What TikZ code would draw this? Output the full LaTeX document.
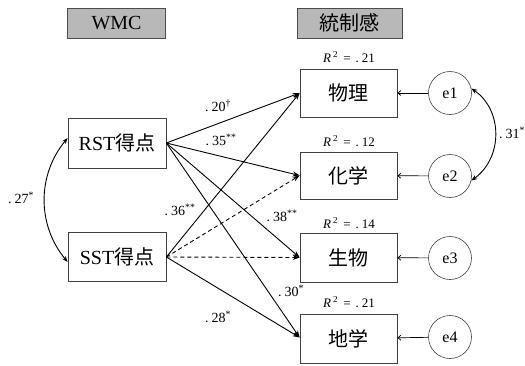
\documentclass[tikz,border=0pt]{standalone}
\usepackage{fontspec}
\setmainfont{Liberation Serif}
\newfontfamily\jp{Noto Sans CJK JP}
\usetikzlibrary{arrows.meta}
\tikzset{
  hdr/.style={draw=black!70, fill=black!28, line width=0.7pt, minimum width=98pt, minimum height=30pt, inner sep=0pt, font=\fontsize{20}{22}\selectfont},
  obs/.style={draw=black!75, line width=0.7pt, minimum width=97pt, minimum height=48pt, inner sep=0pt, font=\fontsize{20}{22}\selectfont},
  err/.style={draw=black!75, line width=0.6pt, circle, minimum size=43pt, inner sep=0pt, font=\fontsize{16}{18}\selectfont},
  path/.style={line width=0.9pt, -{Stealth[length=7pt,width=5pt]}},
  dpath/.style={path, dash pattern=on 4pt off 3pt},
  errarr/.style={line width=0.7pt, -{Straight Barb[length=3pt,width=5pt]}},
  cov/.style={line width=0.9pt, {Stealth[length=6pt,width=4.5pt]}-{Stealth[length=6pt,width=4.5pt]}},
  coef/.style={font=\fontsize{14}{16}\selectfont, inner sep=0pt},
  rsq/.style={font=\fontsize{13}{15}\selectfont, inner sep=0pt}
}
\newcommand{\rsqtext}[1]{{\itshape R}\,\textsuperscript{2}\hspace{5pt}=\hspace{5pt}.\hspace{3pt}#1}
\newcommand{\cf}[2]{.\hspace{3pt}#1\textsuperscript{#2}}
\begin{document}
\begin{tikzpicture}[x=1pt,y=-1pt]
\useasboundingbox (0,0) rectangle (525,365);
% headers
\node[hdr] (hw) at (116.5,23) {WMC};
\node[hdr, minimum width=105pt] (hc) at (349.5,23) {\jp 統制感};
% exogenous
\node[obs, minimum width=98pt, minimum height=50pt] (rst) at (117,143) {RST{\jp 得点}};
\node[obs, minimum width=98pt, minimum height=49pt] (sst) at (117,257) {SST{\jp 得点}};
% endogenous
\node[obs] (phy) at (348.5,93) {\jp 物理};
\node[obs, minimum height=47pt] (chem) at (348.5,175.5) {\jp 化学};
\node[obs, minimum height=49pt] (bio) at (348.5,257.5) {\jp 生物};
\node[obs, minimum height=49pt] (geo) at (348.5,338.5) {\jp 地学};
% errors
\node[err] (e1) at (450,93) {e1};
\node[err] (e2) at (450,176) {e2};
\node[err] (e3) at (450,258) {e3};
\node[err] (e4) at (450,337) {e4};
% R squared
\node[rsq] (r1) at (349,57) {\rsqtext{21}};
\node[rsq] (r2) at (349,141) {\rsqtext{12}};
\node[rsq] (r3) at (349,223) {\rsqtext{14}};
\node[rsq] (r4) at (349,302) {\rsqtext{21}};
% error arrows
\draw[errarr] (e1) -- (phy);
\draw[errarr] (e2) -- (chem);
\draw[errarr] (e3) -- (bio);
\draw[errarr] (e4) -- (geo);
% paths
\draw[path] (rst.east) -- (phy.west);
\draw[path] (rst.east) -- (chem.west);
\draw[path] (rst.east) -- (bio.west);
\draw[path] (rst.east) -- ([yshift=1pt]geo.west);
\draw[path] (sst.east) -- (phy.west);
\draw[dpath] (sst.east) -- (chem.west);
\draw[dpath] (sst.east) -- (bio.west);
\draw[path] (sst.east) -- ([yshift=1pt]geo.west);
% covariances
\coordinate (ca) at ([yshift=5pt]rst.west);
\coordinate (cb) at ([yshift=-5pt]sst.west);
\draw[cov] (ca) .. controls (37,175) and (37,225) .. (cb);
\draw[cov] (e1.12) .. controls (503,110) and (503,158) .. (e2.-12);
% coefficients
\node[coef] (k1) at (218,106) {\cf{20}{†}};
\node[coef] (k2) at (221,140) {\cf{35}{**}};
\node[coef] (k3) at (180,210) {\cf{36}{**}};
\node[coef] (k4) at (282,216) {\cf{38}{**}};
\node[coef] (k5) at (291,291) {\cf{30}{*}};
\node[coef] (k6) at (218,317) {\cf{28}{*}};
\node[coef] (k7) at (21,198) {\cf{27}{*}};
\node[coef, anchor=west] (k8) at (499,133) {\cf{31}{*}};
\end{tikzpicture}
\end{document}
